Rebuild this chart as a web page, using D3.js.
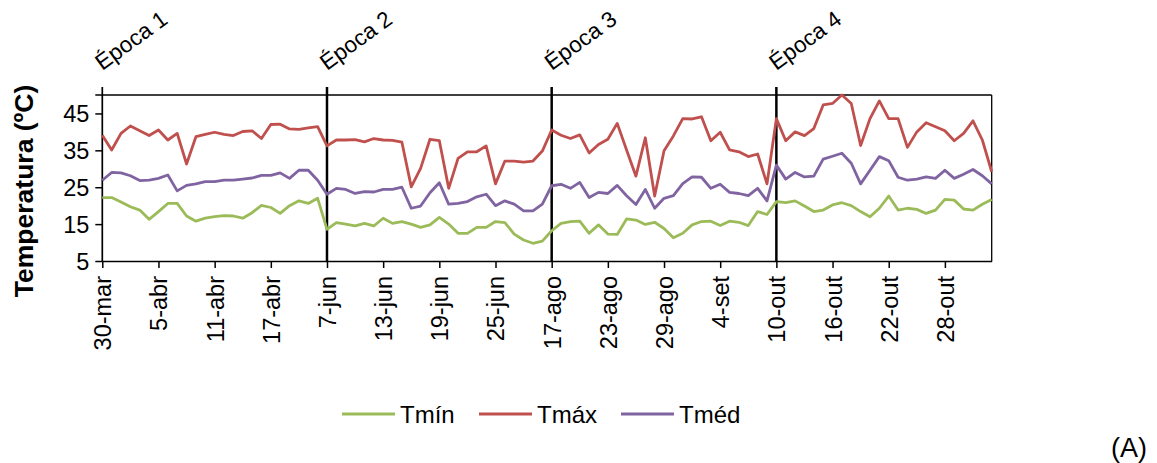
<!DOCTYPE html>
<html>
<head>
<meta charset="utf-8">
<script src="https://cdn.jsdelivr.net/npm/d3@7"></script>
<style>
  html, body { margin: 0; padding: 0; background: #fff; }
  svg { display: block; }
  text { font-family: "Liberation Sans", Arial, sans-serif; fill: #000; }
</style>
</head>
<body>
<svg id="chart" width="1157" height="463"></svg>
<script>
// ---------- data ----------
const categories = [
  "30-mar","31-mar","1-abr","2-abr","3-abr","4-abr","5-abr","6-abr","7-abr","8-abr","9-abr","10-abr",
  "11-abr","12-abr","13-abr","14-abr","15-abr","16-abr","17-abr","18-abr","19-abr","20-abr","21-abr","22-abr",
  "7-jun","8-jun","9-jun","10-jun","11-jun","12-jun","13-jun","14-jun","15-jun","16-jun","17-jun","18-jun",
  "19-jun","20-jun","21-jun","22-jun","23-jun","24-jun","25-jun","26-jun","27-jun","28-jun","29-jun","30-jun",
  "17-ago","18-ago","19-ago","20-ago","21-ago","22-ago","23-ago","24-ago","25-ago","26-ago","27-ago","28-ago",
  "29-ago","30-ago","31-ago","1-set","2-set","3-set","4-set","5-set","6-set","7-set","8-set","9-set",
  "10-out","11-out","12-out","13-out","14-out","15-out","16-out","17-out","18-out","19-out","20-out","21-out",
  "22-out","23-out","24-out","25-out","26-out","27-out","28-out","29-out","30-out","31-out","1-nov","2-nov"
];

const tmin = [
  22.2,22.2,21.0,19.7,18.8,16.3,18.4,20.6,20.6,17.2,15.8,16.6,17.0,17.3,17.2,16.6,18.1,20.1,19.5,17.9,20.0,21.3,20.6,22.0,
  13.6,15.4,15.0,14.5,15.2,14.5,16.6,15.2,15.7,15.0,14.1,14.8,16.8,15.0,12.5,12.5,14.1,14.1,15.7,15.4,12.3,10.7,9.8,10.4,
  13.2,15.2,15.7,15.8,12.5,14.8,12.3,12.2,16.4,16.1,14.9,15.5,13.8,11.3,12.5,14.8,15.7,15.8,14.6,15.8,15.5,14.6,18.4,17.6,
  21.1,20.8,21.3,19.9,18.4,18.8,20.2,20.8,20.0,18.4,17.0,19.3,22.6,18.8,19.3,19.0,17.9,18.8,21.7,21.5,19.1,18.8,20.4,21.7
];

const tmax = [
  39.1,35.1,39.6,41.6,40.3,39.0,40.5,37.8,39.6,31.3,38.7,39.3,39.9,39.3,39.0,40.1,40.3,38.2,42.0,42.1,40.8,40.7,41.1,41.4,
  36.2,37.8,37.8,37.9,37.3,38.2,37.8,37.7,37.2,25.1,30.1,38.0,37.6,24.7,32.8,34.6,34.6,36.2,25.9,32.1,32.1,31.8,32.1,34.8,
  40.5,39.1,38.2,39.2,34.3,36.6,38.0,42.3,35.1,28.0,38.4,22.6,34.9,38.9,43.6,43.5,44.1,37.6,39.9,35.1,34.6,33.3,34.0,25.9,
  43.6,37.6,40.0,39.0,40.9,47.3,47.7,50.0,47.7,36.3,43.6,48.4,43.6,43.6,35.8,40.0,42.5,41.4,40.3,37.6,39.6,43.0,37.8,29.2
];

const tmed = [
  26.9,29.0,28.9,28.1,26.8,26.9,27.4,28.3,24.0,25.5,25.9,26.5,26.5,26.9,26.9,27.2,27.5,28.2,28.2,28.9,27.4,29.6,29.6,26.9,
  23.1,24.7,24.4,23.3,23.8,23.7,24.4,24.4,25.0,19.3,19.9,23.5,26.2,20.4,20.6,21.1,22.4,23.1,20.0,21.3,20.4,18.6,18.6,20.4,
  25.4,25.8,24.7,26.3,22.2,23.6,23.3,25.5,22.7,20.3,24.4,19.3,22.0,22.7,26.0,27.8,27.7,24.7,25.8,23.6,23.3,22.7,24.7,21.3,
  31.0,27.2,29.0,27.8,28.0,32.6,33.4,34.2,31.5,25.9,29.6,33.3,32.2,27.7,26.9,27.2,27.8,27.4,29.6,27.4,28.5,29.8,28.1,25.9
];

const tickLabels = ["30-mar","5-abr","11-abr","17-abr","7-jun","13-jun","19-jun","25-jun",
                    "17-ago","23-ago","29-ago","4-set","10-out","16-out","22-out","28-out"];
const yTicks = [5, 15, 25, 35, 45];
const epochLabels = ["Época 1", "Época 2", "Época 3", "Época 4"];
const epochStarts = ["30-mar", "7-jun", "17-ago", "10-out"];
const seriesNames = ["Tmín", "Tmáx", "Tméd"];
const seriesColors = ["#9BBB59", "#C0504D", "#8064A2"];
const seriesValues = [tmin, tmax, tmed];

// ---------- layout ----------
const plotLeft = 102.3, plotRight = 991.7, plotTop = 95, plotBottom = 261;
const svg = d3.select("#chart");

const x = d3.scalePoint().domain(categories).range([plotLeft, plotRight]);
const y = d3.scaleLinear().domain([5, 50]).range([plotBottom, plotTop]);

// plot border (top and right)
svg.append("line").attr("x1", plotLeft - 7).attr("x2", plotRight).attr("y1", plotTop).attr("y2", plotTop)
  .attr("stroke", "#000").attr("stroke-width", 1.3);
svg.append("line").attr("x1", plotRight).attr("x2", plotRight).attr("y1", plotTop).attr("y2", plotBottom)
  .attr("stroke", "#000").attr("stroke-width", 1.3);

// y axis
const yAxis = d3.axisLeft(y).tickValues(yTicks).tickSize(7).tickPadding(6);
const gy = svg.append("g").attr("transform", `translate(${plotLeft},0)`).call(yAxis);
gy.select(".domain").remove();
gy.selectAll(".tick line").attr("stroke", "#000").attr("stroke-width", 1.5);
gy.selectAll(".tick text").attr("font-size", 23.5).attr("font-family", "Liberation Sans, Arial, sans-serif")
  .attr("x", -13).attr("dy", "0.36em");
svg.append("line").attr("x1", plotLeft).attr("x2", plotLeft).attr("y1", 87).attr("y2", plotBottom)
  .attr("stroke", "#000").attr("stroke-width", 1.7);

// x axis
const xAxis = d3.axisBottom(x).tickValues(tickLabels).tickSize(7).tickSizeOuter(0);
const gx = svg.append("g").attr("transform", `translate(0,${plotBottom})`).call(xAxis);
gx.select(".domain").attr("stroke", "#000").attr("stroke-width", 1.6);
gx.selectAll(".tick line").attr("stroke", "#000").attr("stroke-width", 1.5);
gx.selectAll(".tick text")
  .attr("font-size", 23.5).attr("font-family", "Liberation Sans, Arial, sans-serif")
  .attr("text-anchor", "end")
  .attr("transform", "rotate(-90)")
  .attr("x", -15).attr("y", 0).attr("dy", "0.36em");

// epoch separators and labels
epochStarts.forEach((c, i) => {
  const xp = x(c);
  if (i > 0) {
    svg.append("line").attr("x1", xp).attr("x2", xp).attr("y1", 87).attr("y2", plotBottom)
      .attr("stroke", "#000").attr("stroke-width", 2.5);
  }
  svg.append("text").text(epochLabels[i])
    .attr("font-size", 22.5)
    .attr("transform", `translate(${xp},${71}) rotate(-36)`);
});

// series lines
const line = d3.line().x((d, i) => x(categories[i])).y(d => y(d));
seriesValues.forEach((vals, k) => {
  svg.append("path").datum(vals)
    .attr("fill", "none").attr("stroke", seriesColors[k]).attr("stroke-width", 2.8)
    .attr("stroke-linejoin", "round").attr("d", line);
});

// y axis title
svg.append("text").text("Temperatura (ºC)")
  .attr("font-size", 26.5).attr("font-weight", "bold").attr("text-anchor", "middle")
  .attr("transform", "translate(33,191) rotate(-90)");

// legend
const legendX = [342, 479, 621];
seriesNames.forEach((n, k) => {
  const g = svg.append("g").attr("transform", `translate(${legendX[k]},414)`);
  g.append("line").attr("x1", 0).attr("x2", 53).attr("y1", 0).attr("y2", 0)
    .attr("stroke", seriesColors[k]).attr("stroke-width", 2.8);
  g.append("text").text(n).attr("x", 58).attr("y", 9).attr("font-size", 24);
});

// panel label
svg.append("text").text("(A)").attr("x", 1111).attr("y", 457).attr("font-size", 27);
</script>
</body>
</html>
